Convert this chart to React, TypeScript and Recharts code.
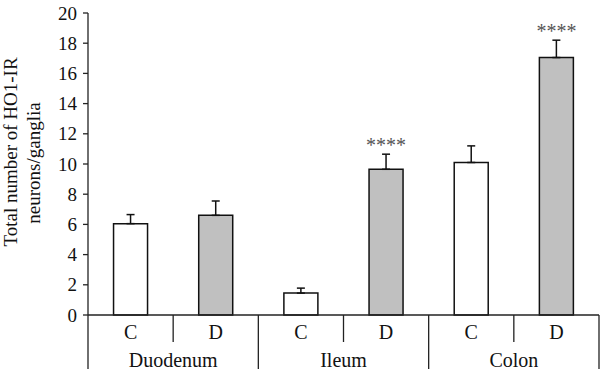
import { Bar, BarChart, Cell, ErrorBar, LabelList, XAxis, YAxis } from 'recharts'

const groups = ['Duodenum', 'Ileum', 'Colon']
const letters = ['C', 'D']
const means = [6.05, 6.6, 1.45, 9.65, 10.1, 17.05]
const errors = [0.6, 0.95, 0.33, 1.0, 1.1, 1.15]
const marks = ['', '', '', '****', '', '****']
const yTicks = [0, 2, 4, 6, 8, 10, 12, 14, 16, 18, 20]

const W = 600
const H = 374
const Y_AXIS_W = 88
const X_AXIS_H = 59
const MARGIN = { top: 13, right: 1, bottom: 0, left: 0 }
const FONT = '"Liberation Serif", "Times New Roman", serif'

const fillFor: Record<string, string> = { C: '#ffffff', D: '#c0c0c0' }

const rows = means.map((v, i) => ({
  key: `${groups[Math.floor(i / letters.length)]}-${letters[i % letters.length]}`,
  letter: letters[i % letters.length],
  group: groups[Math.floor(i / letters.length)],
  value: v,
  err: [0, errors[i]],
  mark: marks[i],
}))

const band = (W - MARGIN.right - (MARGIN.left + Y_AXIS_W)) / rows.length

function CategoryTick(props: any) {
  const { x, y, index } = props
  const row = rows[index]
  const left = x - band / 2
  const right = x + band / 2
  const isLast = index % letters.length === letters.length - 1
  return (
    <g>
      <text x={x} y={y + 17} textAnchor="middle" dominantBaseline="central" fontSize={20} fontFamily={FONT} fill="#111">
        {row.letter}
      </text>
      {index === 0 && <line x1={left} y1={y} x2={left} y2={y + 54} stroke="#222" strokeWidth={1.3} />}
      {isLast ? (
        <>
          <line x1={left} y1={y} x2={left} y2={y + 27} stroke="#222" strokeWidth={1.3} />
          <line x1={right} y1={y} x2={right} y2={y + 54} stroke="#222" strokeWidth={1.3} />
          <text x={left} y={y + 45} textAnchor="middle" dominantBaseline="central" fontSize={20} fontFamily={FONT} fill="#111">
            {row.group}
          </text>
        </>
      ) : null}
    </g>
  )
}

function ValueTick(props: any) {
  const { x, y, payload } = props
  return (
    <text x={x} y={y} textAnchor="end" dominantBaseline="central" fontSize={19} fontFamily={FONT} fill="#111">
      {payload.value}
    </text>
  )
}

function Stars(props: any) {
  const { x, y, width, height, value, index } = props
  if (!value) return null
  const perUnit = height / means[index]
  const top = y - errors[index] * perUnit
  return (
    <text x={x + width / 2} y={top - 2} textAnchor="middle" fontSize={20} fontFamily={FONT} fill="#555">
      {value}
    </text>
  )
}

function YLabel() {
  return (
    <g fontFamily={FONT} fontSize={19} fill="#111">
      <text x={17} y={152} textAnchor="middle" transform="rotate(-90 17 152)">
        Total number of HO1-IR
      </text>
      <text x={40} y={163} textAnchor="middle" transform="rotate(-90 40 163)">
        neurons/ganglia
      </text>
    </g>
  )
}

export default function App() {
  return (
    <div style={{ position: 'absolute', left: 0, top: 0, width: W, height: H, background: '#fff' }}>
      <BarChart width={W} height={H} data={rows} margin={MARGIN} barCategoryGap="30%">
        <XAxis
          dataKey="key"
          height={X_AXIS_H}
          interval={0}
          tickLine={false}
          tickSize={0}
          tickMargin={0}
          axisLine={{ stroke: '#222', strokeWidth: 1.3 }}
          tick={<CategoryTick />}
        />
        <YAxis
          width={Y_AXIS_W}
          domain={[0, 20]}
          ticks={yTicks}
          interval={0}
          tickSize={5}
          tickMargin={6}
          axisLine={{ stroke: '#222', strokeWidth: 1.3 }}
          tickLine={{ stroke: '#222', strokeWidth: 1.3 }}
          tick={<ValueTick />}
          label={<YLabel />}
        />
        <Bar dataKey="value" stroke="#111" strokeWidth={1.5} isAnimationActive={false}>
          {rows.map((r) => (
            <Cell key={r.key} fill={fillFor[r.letter]} />
          ))}
          <ErrorBar dataKey="err" width={4} stroke="#111" strokeWidth={1.5} direction="y" />
          <LabelList dataKey="mark" content={<Stars />} />
        </Bar>
      </BarChart>
    </div>
  )
}
